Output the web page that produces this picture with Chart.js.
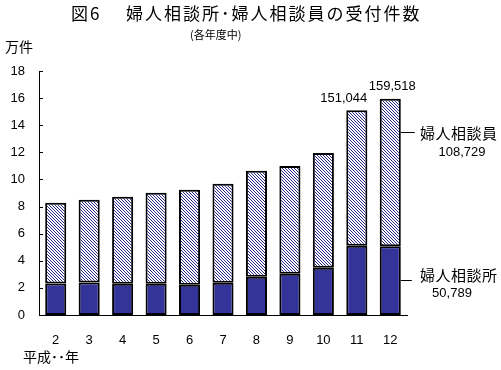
<!DOCTYPE html>
<html>
<head>
<meta charset="utf-8">
<script src="https://cdn.jsdelivr.net/npm/chart.js@4"></script>
<style>
  html, body { margin: 0; padding: 0; background: #fff; }
  #wrap { width: 501px; height: 370px; }
</style>
</head>
<body>
<div id="wrap"><canvas id="c" width="501" height="370"></canvas></div>
<script>
// 平成 year, values in 万件
const years = ['2', '3', '4', '5', '6', '7', '8', '9', '10', '11', '12'];
const shoValues = [2.33, 2.40, 2.30, 2.30, 2.23, 2.38, 2.82, 3.04, 3.48, 5.10, 5.08];   // 婦人相談所
const inValues = [5.95, 6.10, 6.43, 6.72, 7.01, 7.30, 7.82, 7.96, 8.48, 10.00, 10.87];  // 婦人相談員
const totalLabels = { 9: '151,044', 10: '159,518' };
const yTicks = [0, 2, 4, 6, 8, 10, 12, 14, 16, 18];

const NAVY = '#333399';
const FONT = "'Liberation Sans', 'Noto Sans CJK JP', sans-serif";
const JFONT = "'Noto Sans CJK JP', sans-serif";

function hatch() {
  const t = document.createElement('canvas');
  t.width = 3; t.height = 3;
  const g = t.getContext('2d');
  g.fillStyle = '#fff';
  g.fillRect(0, 0, 3, 3);
  g.fillStyle = '#28288c';
  for (let i = 0; i < 3; i++) g.fillRect(i, i, 1, 1);
  return g.createPattern(t, 'repeat');
}

const decor = {
  id: 'decor',
  afterDraw(chart) {
    const { ctx, chartArea } = chart;
    const y = chart.scales.y;
    ctx.save();
    // inner ticks on y axis
    ctx.strokeStyle = '#000';
    ctx.lineWidth = 1;
    yTicks.forEach(v => {
      const py = Math.round(y.getPixelForValue(v)) + 0.5;
      ctx.beginPath();
      ctx.moveTo(chartArea.left, py);
      ctx.lineTo(chartArea.left + 4, py);
      ctx.stroke();
    });

    ctx.fillStyle = '#000';
    ctx.textBaseline = 'middle';
    ctx.textAlign = 'left';
    ctx.font = '17px ' + JFONT;
    ctx.letterSpacing = '2px';
    ctx.fillText('図6', 71, 14);
    ctx.fillText('婦人相談所･婦人相談員の受付件数', 126, 14);
    ctx.letterSpacing = '0px';
    ctx.font = '11px ' + JFONT;
    ctx.fillText('(各年度中)', 190, 35);
    ctx.font = '14px ' + JFONT;
    ctx.fillText('万件', 5, 47);
    ctx.fillText('平成･･年', 23, 357);

    // totals above bars
    const meta = chart.getDatasetMeta(1);
    ctx.font = '13px ' + FONT;
    ctx.textAlign = 'center';
    Object.keys(totalLabels).forEach(k => {
      const bar = meta.data[k];
      const dx = k == 9 ? -13 : 2;
      ctx.fillText(totalLabels[k], bar.x + dx, bar.y - 12);
    });

    // callouts
    const last = meta.data[meta.data.length - 1];
    const right = last.x + last.width / 2;
    const y1 = Math.round(y.getPixelForValue(13.48)) + 0.5;
    const y2 = Math.round(y.getPixelForValue(2.57)) + 0.5;
    ctx.beginPath();
    ctx.moveTo(right, y1); ctx.lineTo(right + 14, y1);
    ctx.moveTo(right, y2); ctx.lineTo(right + 11, y2);
    ctx.stroke();
    ctx.textAlign = 'left';
    ctx.font = '15px ' + JFONT;
    ctx.letterSpacing = '0.5px';
    ctx.fillText('婦人相談員', 420, y1 + 1);
    ctx.fillText('婦人相談所', 420, y2 - 5);
    ctx.letterSpacing = '0px';
    ctx.font = '13px ' + FONT;
    ctx.textAlign = 'center';
    ctx.fillText('108,729', 462, y1 + 20);
    ctx.fillText('50,789', 452, y2 + 13);
    ctx.restore();
  }
};

new Chart(document.getElementById('c'), {
  type: 'bar',
  data: {
    labels: years,
    datasets: [
      { label: '婦人相談所', data: shoValues, backgroundColor: NAVY, borderColor: '#000', borderWidth: 2, borderSkipped: false },
      { label: '婦人相談員', data: inValues, backgroundColor: hatch(), borderColor: '#000', borderWidth: 2, borderSkipped: false },
    ],
  },
  options: {
    responsive: false,
    animation: false,
    devicePixelRatio: 1,
    layout: { padding: { top: 71, right: 94, left: 0, bottom: 0 } },
    plugins: { legend: { display: false }, tooltip: { enabled: false }, title: { display: false } },
    datasets: { bar: { barPercentage: 0.63, categoryPercentage: 1 } },
    scales: {
      x: {
        stacked: true,
        grid: { display: false, drawTicks: false },
        border: { color: '#000', width: 1 },
        ticks: { color: '#000', padding: 18, font: { family: FONT, size: 13 }, maxRotation: 0 },
        afterFit: s => { s.height = 55; },
      },
      y: {
        stacked: true,
        min: 0, max: 18,
        grid: { display: false, drawTicks: false },
        border: { color: '#000', width: 1 },
        ticks: { stepSize: 2, color: '#000', padding: 14, font: { family: FONT, size: 13 } },
        afterFit: s => { s.width = 39; },
      },
    },
  },
  plugins: [decor],
});
</script>
</body>
</html>
